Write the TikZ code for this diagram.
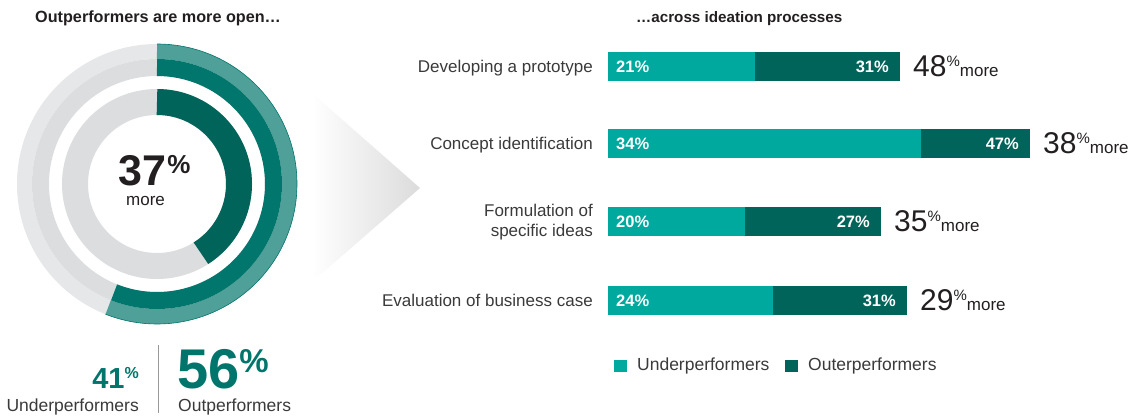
\documentclass[tikz,border=0pt]{standalone}
\usepackage{fontspec}
\setmainfont{Liberation Sans}
\usetikzlibrary{calc,positioning}

\definecolor{ringteal}{HTML}{4FA099}
\definecolor{ringmid}{HTML}{00766C}
\definecolor{ringdark}{HTML}{00645A}
\definecolor{barunder}{HTML}{00A99D}
\definecolor{barouter}{HTML}{00645A}
\definecolor{ringgrayA}{HTML}{E6E7E9}
\definecolor{ringgrayB}{HTML}{DCDDDF}
\definecolor{labeltext}{HTML}{3A3A3A}
\definecolor{headtext}{HTML}{231F20}
\definecolor{statteal}{HTML}{00756B}

\newcommand{\fsz}[1]{\fontsize{#1}{#1}\selectfont}
\newcommand{\gainlabel}[1]{{\fsz{30}#1}\raisebox{10pt}{\fsz{15}\%}{\fsz{17}more}}
\newcommand{\statlabel}[4]{{\fsz{#1}\bfseries #4}\raisebox{#3pt}{\fsz{#2}\bfseries\%}}

\tikzset{
    headline/.style={anchor=base west, font=\fsz{15}\bfseries, text=headtext, inner sep=0pt},
    rowlabel/.style={anchor=base east, font=\fsz{17}, text=labeltext, inner sep=0pt},
    barval/.style={font=\fsz{16.5}\bfseries, text=white, inner sep=0pt},
    gaintag/.style={anchor=base west, text=headtext, inner sep=0pt},
    keybox/.style={minimum size=12.5pt, inner sep=0pt},
    keytext/.style={font=\fsz{17.5}, text=labeltext, inner sep=0pt},
}

\begin{document}
\begin{tikzpicture}[x=1pt,y=1pt]
        \useasboundingbox (0,0) rectangle (1140,-416);

        % headlines
        \node[headline, font=\fsz{16.2}\bfseries] (headL) at (35,-22) {Outperformers are more open…};
        \node[headline, font=\fsz{15.2}\bfseries] (headR) at (636,-22) {…across ideation processes};

        % donut: gray tracks first, then the coloured arcs
        \coordinate (dn) at (157,-184);
        \draw[ringgrayA, line width=15pt] (dn) circle[radius=132.5];
        \draw[ringgrayB, line width=17pt] (dn) circle[radius=116.5];
        \draw[ringgrayB, line width=26pt] (dn) circle[radius=82];
        \draw[ringteal, line width=15pt] (dn) ++(90:132.5) arc[start angle=90, end angle=-111.6, radius=132.5];
        \draw[ringmid, line width=0.6pt] (dn) ++(90:140) arc[start angle=90, end angle=-111.6, radius=140];
        \draw[ringmid, line width=17pt] (dn) ++(90:116.5) arc[start angle=90, end angle=-111.6, radius=116.5];
        \draw[ringdark, line width=26pt] (dn) ++(90:82) arc[start angle=90, end angle=-57.6, radius=82];

        % text in the middle of the donut
        \node[anchor=base west, font=\fsz{43}\bfseries, text=headtext, inner sep=0pt] (midnum) at (118,-185) {37};
        \node[anchor=north west, font=\fsz{26}\bfseries, text=headtext, inner sep=0pt] (midpct) at ($(midnum.north east)+(1,0)$) {\%};
        \node[anchor=base west, font=\fsz{17}, text=headtext, inner sep=0pt] (midmore) at (126,-205.5) {more};

        % shaded pointer between donut and bars
        \shade[left color=white, right color=black!14] (312,-93) -- (420,-188) -- (312,-282) -- cycle;

        % totals under the donut
        \coordinate (sepTop) at (158,-345);
        \coordinate (sepBot) at (158,-413);
        \draw[black!40, line width=1pt] (sepTop) -- (sepBot);
        \node[anchor=base east, text=statteal, inner sep=0pt] (underpct) at (139,-388) {\statlabel{29}{16}{10}{41}};
        \node[anchor=base east, font=\fsz{17.5}, text=labeltext, inner sep=0pt] (underlab) at (139,-411) {Underperformers};
        \node[anchor=base west, text=statteal, inner sep=0pt] (outpct) at (177,-388) {\statlabel{56}{33}{16}{56}};
        \node[anchor=base west, font=\fsz{17.5}, text=labeltext, inner sep=0pt] (outlab) at (178,-411) {Outperformers};

        % row labels
        \node[rowlabel] (row1) at (593,-72.5) {Developing a prototype};
        \node[rowlabel] (row2) at (593,-149) {Concept identification};
        \node[rowlabel, anchor=east, align=right, font=\fontsize{17}{19.5}\selectfont] (row3) at (593,-222) {Formulation of\\specific ideas};
        \node[rowlabel] (row4) at (593,-306.5) {Evaluation of business case};

        % stacked bars: row / centre / split / end / under / outer / gain
        \foreach \row/\yc/\cut/\bend/\lo/\hi/\gain in {1/66.5/755/900/21/31/48, 2/143/921/1030/34/47/38, 3/221/745/881/20/27/35, 4/300/773/907/24/31/29}{
            \fill[barunder] (608,-\yc+14.5) rectangle (\cut,-\yc-14.5);
            \fill[barouter] (\cut,-\yc+14.5) rectangle (\bend,-\yc-14.5);
            \node[barval, anchor=base west] (lo\row) at (616,-\yc-6) {\lo\%};
            \node[barval, anchor=base east] (hi\row) at (\bend-11,-\yc-6) {\hi\%};
            \node[gaintag] (gain\row) at (\bend+13,-\yc-10) {\gainlabel{\gain}};
        }

        % legend
        \node[keybox, fill=barunder] (keyA) at (620.5,-366) {};
        \node[keytext, right=10pt of keyA] (keyAtext) {Underperformers};
        \node[keybox, fill=barouter] (keyB) at (791.5,-366) {};
        \node[keytext, right=10pt of keyB] (keyBtext) {Outerperformers};

    \end{tikzpicture}
\end{document}
